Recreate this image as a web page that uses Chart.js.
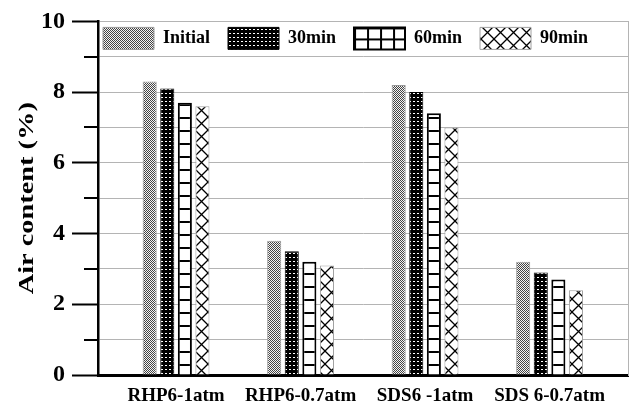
<!DOCTYPE html>
<html>
<head>
<meta charset="utf-8">
<script src="https://cdn.jsdelivr.net/npm/chart.js@4/dist/chart.umd.min.js"></script>
<style>
  html, body { margin: 0; padding: 0; background: #fff; }
  #wrap { width: 631px; height: 406px; }
</style>
</head>
<body>
<div id="wrap"><canvas id="c" width="631" height="406"></canvas></div>
<script>
// ---- data ----
const categories = ['RHP6-1atm', 'RHP6-0.7atm', 'SDS6 -1atm', 'SDS 6-0.7atm'];
const seriesNames = ['Initial', '30min', '60min', '90min'];
const initialValues = [8.3, 3.8, 8.2, 3.2];
const min30Values = [8.1, 3.5, 8.0, 2.9];
const min60Values = [7.7, 3.2, 7.4, 2.7];
const min90Values = [7.6, 3.1, 7.0, 2.4];
const yTickValues = [0, 2, 4, 6, 8, 10];
const yMinorTickValues = [1, 3, 5, 7, 9];
const yAxisTitle = 'Air content (%)';

const SERIF = '"Liberation Serif", "Times New Roman", serif';

// ---- fill patterns ----
function makePattern(w, h, draw) {
  const c = document.createElement('canvas');
  c.width = w; c.height = h;
  const g = c.getContext('2d');
  draw(g, w, h);
  return g.createPattern(c, 'repeat');
}
const checkerFill = makePattern(2, 2, g => {
  g.fillStyle = '#f4f4f4'; g.fillRect(0, 0, 2, 2);
  g.fillStyle = '#444'; g.fillRect(0, 0, 1, 1); g.fillRect(1, 1, 1, 1);
});
const dotFill = makePattern(4, 4, g => {
  g.fillStyle = '#000'; g.fillRect(0, 0, 4, 4);
  g.fillStyle = '#fff'; g.fillRect(1, 1, 2, 1);
});
const rungFill = makePattern(4, 13, g => {
  g.fillStyle = '#fff'; g.fillRect(0, 0, 4, 13);
  g.fillStyle = '#000'; g.fillRect(0, 0, 4, 2);
});
const gridFill = makePattern(13, 11, g => {
  g.fillStyle = '#fff'; g.fillRect(0, 0, 13, 11);
  g.fillStyle = '#000'; g.fillRect(0, 0, 13, 2); g.fillRect(0, 0, 2, 11);
});
const crossFill = makePattern(13, 13, g => {
  g.fillStyle = '#fff'; g.fillRect(0, 0, 13, 13);
  g.strokeStyle = '#000'; g.lineWidth = 1.3;
  g.beginPath();
  g.moveTo(0, 0); g.lineTo(13, 13);
  g.moveTo(13, 0); g.lineTo(0, 13);
  g.stroke();
});

// ---- plugins ----
// Legend floats inside the top band of the plot instead of taking layout space.
const floatingLegend = {
  id: 'floatingLegend',
  beforeLayout(chart) {
    const lg = chart.legend;
    if (lg && !lg._floating) {
      const fit = lg.fit;
      lg.fit = function () {
        fit.call(this);
        this._fullHeight = this.height;
        this.height = 0;
      };
      lg._floating = true;
    }
  },
  afterLayout(chart) {
    const lg = chart.legend;
    const area = chart.chartArea;
    const pad = lg.options.labels.padding;
    lg.left = area.left + 5 - pad;
    lg.right = area.right;
    lg.width = lg.right - lg.left;
    lg.top = area.top + 6 - pad;
    lg.height = lg._fullHeight;
    lg.bottom = lg.top + lg.height;
  },
  beforeDraw(chart) {
    const lg = chart.legend;
    const hb = lg.legendHitBoxes && lg.legendHitBoxes[2];
    if (hb) gridFill.setTransform(new DOMMatrix([1, 0, 0, 1, hb.left, hb.top]));
  }
};

// Short minor tick marks on the value axis at odd values, plus the tall axis title.
const valueAxisExtras = {
  id: 'valueAxisExtras',
  afterDraw(chart) {
    const y = chart.scales.y;
    const area = chart.chartArea;
    const ctx = chart.ctx;
    ctx.save();
    ctx.strokeStyle = '#000';
    ctx.lineWidth = 2;
    yMinorTickValues.forEach(v => {
      const py = Math.round(y.getPixelForValue(v));
      ctx.beginPath();
      ctx.moveTo(area.left - 14, py);
      ctx.lineTo(area.left, py);
      ctx.stroke();
    });
    ctx.restore();

    ctx.save();
    ctx.translate(33, (area.top + area.bottom) / 2);
    ctx.rotate(-Math.PI / 2);
    ctx.scale(1.35, 1);
    ctx.font = 'bold 21px ' + SERIF;
    ctx.fillStyle = '#000';
    ctx.textAlign = 'center';
    ctx.textBaseline = 'alphabetic';
    ctx.fillText(yAxisTitle, 0, 0);
    ctx.restore();
  }
};

// ---- datasets ----
function series(values) {
  return values.map((v, i) => ({ x: i + 1, y: v }));
}
const datasets = [
  { label: seriesNames[0], data: series(initialValues), backgroundColor: checkerFill, borderColor: '#999', borderWidth: 1 },
  { label: seriesNames[1], data: series(min30Values), backgroundColor: dotFill, borderColor: '#000', borderWidth: 1 },
  { label: seriesNames[2], data: series(min60Values), backgroundColor: rungFill, borderColor: '#000', borderWidth: 2 },
  { label: seriesNames[3], data: series(min90Values), backgroundColor: crossFill, borderColor: '#a0a0a0', borderWidth: 1 }
];

new Chart(document.getElementById('c'), {
  type: 'bar',
  data: { datasets },
  options: {
    responsive: false,
    devicePixelRatio: 1,
    animation: false,
    categoryPercentage: 0.565,
    barPercentage: 0.8,
    layout: { padding: { left: 0, top: 20, right: 3, bottom: 0 } },
    plugins: {
      tooltip: { enabled: false },
      legend: {
        display: true,
        position: 'top',
        align: 'start',
        labels: {
          color: '#000',
          font: { family: SERIF, weight: 'bold', size: 18 },
          boxWidth: 51,
          boxHeight: 22,
          padding: 18,
          generateLabels(chart) {
            const items = Chart.defaults.plugins.legend.labels.generateLabels(chart);
            items[2].fillStyle = gridFill;
            return items;
          }
        }
      }
    },
    scales: {
      x: {
        type: 'linear',
        offset: false,
        min: 0.373,
        max: 4.63,
        afterBuildTicks(scale) {
          scale.ticks = categories.map((c, i) => ({ value: i + 1 }));
        },
        afterFit(scale) { scale.height = 31; },
        ticks: {
          autoSkip: false,
          maxRotation: 0,
          color: '#000',
          padding: 10,
          font: { family: SERIF, weight: 'bold', size: 19 },
          callback: (value, index) => categories[index]
        },
        grid: { display: false, drawTicks: false, offset: false },
        border: { color: '#000', width: 3 }
      },
      y: {
        min: 0,
        max: 10,
        afterFit(scale) { scale.width = 98; },
        ticks: {
          stepSize: 1,
          color: '#000',
          padding: 7,
          font: { family: SERIF, weight: 'bold', size: 24 },
          callback: v => (yTickValues.includes(v) ? String(v) : '')
        },
        grid: {
          color: '#b4b4b4',
          lineWidth: 1,
          tickLength: 26,
          tickWidth: 2,
          tickColor: ctx => (yTickValues.includes(ctx.tick.value) ? '#000' : 'rgba(0,0,0,0)')
        },
        border: { color: '#000', width: 2.5 },
        title: { display: false }
      },
      yR: {
        position: 'right',
        min: 0,
        max: 10,
        afterFit(scale) { scale.width = 0; },
        ticks: { display: false },
        grid: { display: false, drawTicks: false },
        border: { color: '#b4b4b4', width: 1 }
      }
    }
  },
  plugins: [floatingLegend, valueAxisExtras]
});
</script>
</body>
</html>
